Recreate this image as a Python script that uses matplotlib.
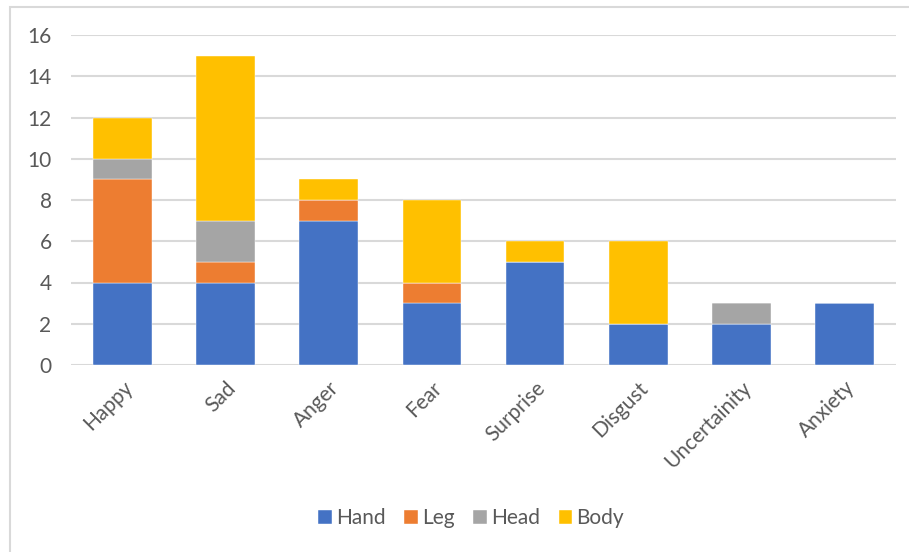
import matplotlib.pyplot as plt
from matplotlib.patches import Rectangle
import numpy as np

plt.rcParams['font.family'] = ['Lato', 'DejaVu Sans']

categories = ['Happy', 'Sad', 'Anger', 'Fear', 'Surprise', 'Disgust', 'Uncertainity', 'Anxiety']
hand = [4, 4, 7, 3, 5, 2, 2, 3]
leg = [5, 1, 1, 1, 0, 0, 0, 0]
head = [1, 2, 0, 0, 0, 0, 1, 0]
body = [2, 8, 1, 4, 1, 4, 0, 0]

series = [('Hand', hand, '#4472C4'), ('Leg', leg, '#ED7D31'),
          ('Head', head, '#A5A5A5'), ('Body', body, '#FFC000')]

W, H = 909, 552
fig = plt.figure(figsize=(W / 100, H / 100), dpi=100)
ax = fig.add_axes([71 / W, (H - 365) / H, (896 - 71) / W, 330 / H])

x = np.arange(len(categories))
bottom = np.zeros(len(categories))
for name, vals, color in series:
    vals = np.array(vals, dtype=float)
    ax.bar(x, vals, width=0.57, bottom=bottom, color=color, label=name,
           edgecolor='white', linewidth=0.3, zorder=3)
    bottom += vals

ax.set_xlim(-0.5, len(categories) - 0.5)
ax.set_ylim(0, 16)
ax.set_yticks(range(0, 17, 2))
ax.yaxis.grid(True, color='#D9D9D9', linewidth=1.5, zorder=0)
ax.set_axisbelow(True)
for s in ax.spines.values():
    s.set_visible(False)
ax.tick_params(axis='both', length=0, colors='#595959', labelsize=15)
ax.tick_params(axis='y', pad=14)
ax.set_xticks(x)
ax.set_xticklabels(categories, rotation=45, ha='right', rotation_mode='anchor')
ax.tick_params(axis='x', pad=9)

fig.legend(loc='center', bbox_to_anchor=(471 / W, 1 - 518 / H), ncol=4,
           frameon=False, fontsize=15, handlelength=0.65, handleheight=0.65,
           handletextpad=0.2, columnspacing=0.9, labelcolor='#595959')

fig.patches.append(Rectangle((10 / W, -0.1), 1.1, 1 - 7 / H + 0.1,
                             transform=fig.transFigure, fill=False,
                             edgecolor='#D9D9D9', linewidth=1.5))

fig.savefig('out.png', dpi=100, facecolor='white')
